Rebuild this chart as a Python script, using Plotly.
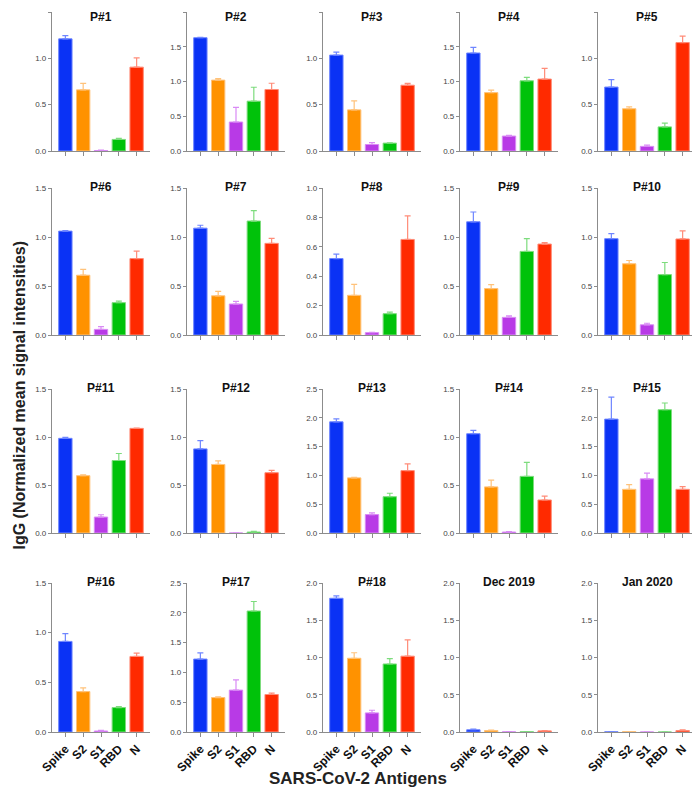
import plotly.graph_objects as go

# ---- data ----
antigens = ["Spike", "S2", "S1", "RBD", "N"]
panels = ["P#1", "P#2", "P#3", "P#4", "P#5",
          "P#6", "P#7", "P#8", "P#9", "P#10",
          "P#11", "P#12", "P#13", "P#14", "P#15",
          "P#16", "P#17", "P#18", "Dec 2019", "Jan 2020"]

means = [
    [1.21, 0.66, 0.005, 0.125, 0.905],
    [1.63, 1.02, 0.417, 0.717, 0.885],
    [1.035, 0.444, 0.07, 0.085, 0.71],
    [1.41, 0.84, 0.215, 1.01, 1.035],
    [0.69, 0.456, 0.05, 0.26, 1.17],
    [1.06, 0.61, 0.057, 0.33, 0.78],
    [1.09, 0.40, 0.316, 1.163, 0.935],
    [0.52, 0.27, 0.016, 0.145, 0.65],
    [1.155, 0.474, 0.18, 0.853, 0.928],
    [0.983, 0.727, 0.104, 0.616, 0.98],
    [0.986, 0.597, 0.166, 0.755, 1.09],
    [0.876, 0.714, 0.0, 0.01, 0.628],
    [1.93, 0.957, 0.32, 0.63, 1.083],
    [1.034, 0.48, 0.01, 0.59, 0.344],
    [1.977, 0.758, 0.94, 2.14, 0.758],
    [0.912, 0.407, 0.01, 0.246, 0.761],
    [1.224, 0.578, 0.703, 2.03, 0.629],
    [1.795, 0.99, 0.256, 0.913, 1.018],
    [0.03, 0.02, 0.002, 0.003, 0.015],
    [0.003, 0.005, 0.0, 0.0, 0.02],
]
errors = [
    [0.035, 0.07, 0.005, 0.012, 0.10],
    [0.006, 0.02, 0.21, 0.20, 0.09],
    [0.032, 0.096, 0.02, 0.004, 0.02],
    [0.08, 0.036, 0.01, 0.05, 0.155],
    [0.08, 0.021, 0.015, 0.04, 0.07],
    [0.005, 0.06, 0.028, 0.015, 0.075],
    [0.03, 0.045, 0.028, 0.107, 0.051],
    [0.03, 0.075, 0.002, 0.011, 0.16],
    [0.10, 0.041, 0.015, 0.13, 0.014],
    [0.052, 0.033, 0.016, 0.124, 0.082],
    [0.011, 0.01, 0.024, 0.073, 0.003],
    [0.086, 0.038, 0.0, 0.007, 0.024],
    [0.05, 0.01, 0.03, 0.06, 0.117],
    [0.036, 0.07, 0.004, 0.145, 0.041],
    [0.383, 0.082, 0.10, 0.117, 0.047],
    [0.078, 0.037, 0.007, 0.01, 0.034],
    [0.102, 0.011, 0.17, 0.16, 0.023],
    [0.031, 0.074, 0.036, 0.073, 0.219],
    [0.008, 0.005, 0.0, 0.0, 0.005],
    [0.0, 0.0, 0.0, 0.0, 0.008],
]
ymax = [1.5, 2.0, 1.5, 2.0, 1.5,
        1.5, 1.5, 1.0, 1.5, 1.5,
        1.5, 1.5, 2.5, 1.5, 2.5,
        1.5, 2.5, 2.0, 2.0, 2.0]
ystep = [0.5, 0.5, 0.5, 0.5, 0.5,
         0.5, 0.5, 0.2, 0.5, 0.5,
         0.5, 0.5, 0.5, 0.5, 0.5,
         0.5, 0.5, 0.5, 0.5, 0.5]

bar_colors = ["#0a32f5", "#ff9200", "#b83ae6", "#00c20a", "#ff2a00"]
edge_colors = ["#6f86ff", "#ffc27a", "#d98af5", "#7ddc7d", "#ff8c78"]

# ---- layout geometry ----
# page body has an 8px margin, so the figure is a bit smaller than the window
# and screen positions are converted to paper fractions with that offset
OFF = 8
W, H = 692, 785
col_left = [52, 187, 323, 460, 598]
col_w = 98
row_top = [12, 188, 389, 583]
row_bot = [151, 335, 533, 732]


def px(x):
    return (x - OFF) / W


def py(y):
    return 1 - (y - OFF) / H


fig = go.Figure()
annotations = []
axes = {}

for i, name in enumerate(panels):
    r, c = divmod(i, 5)
    n = i + 1
    xa = "x" if n == 1 else f"x{n}"
    ya = "y" if n == 1 else f"y{n}"
    for k, ag in enumerate(antigens):
        fig.add_trace(go.Bar(
            x=[ag], y=[means[i][k]],
            xaxis=xa, yaxis=ya,
            width=0.75,
            marker=dict(color=bar_colors[k], line=dict(color=edge_colors[k], width=1)),
            error_y=dict(type="data", array=[errors[i][k]], arrayminus=[0],
                         symmetric=False, color=edge_colors[k], thickness=1.2, width=3),
            showlegend=False,
        ))
    x0 = px(col_left[c])
    x1 = px(col_left[c] + col_w)
    y0 = py(row_bot[r])
    y1 = py(row_top[r])
    axes[f"xaxis{'' if n == 1 else n}"] = dict(
        domain=[x0, x1], anchor=ya, range=[-0.75, 4.75],
        showline=True, linecolor="#8c8c8c", linewidth=1.3,
        ticks="outside", ticklen=4, tickcolor="#8c8c8c",
        showticklabels=(r == 3), tickangle=-45, automargin=False,
        tickfont=dict(family="Liberation Sans, Arial", size=12, color="#111", weight="bold"),
        showgrid=False, zeroline=False, fixedrange=True,
    )
    axes[f"yaxis{'' if n == 1 else n}"] = dict(
        domain=[y0, y1], anchor=xa, range=[0, ymax[i]],
        dtick=ystep[i], tickformat=".1f", automargin=False,
        showline=True, linecolor="#8c8c8c", linewidth=1.3,
        ticks="outside", ticklen=3, tickcolor="#8c8c8c",
        tickfont=dict(family="Liberation Sans, Arial", size=8, color="#444"),
        showgrid=False, zeroline=False, fixedrange=True,
    )
    if r == 0:
        ty, anchor = 1.0, "top"
    else:
        ty, anchor = py(row_top[r] - 1), "middle"
    annotations.append(dict(
        text=f"<b>{name}</b>", x=(x0 + x1) / 2, y=ty,
        xref="paper", yref="paper", xanchor="center", yanchor=anchor,
        showarrow=False, font=dict(family="Liberation Sans, Arial", size=12, color="#111"),
    ))

annotations.append(dict(
    text="<b>IgG (Normalized mean signal intensities)</b>", x=0.0, y=py(395),
    xref="paper", yref="paper", xanchor="left", yanchor="middle", textangle=-90,
    showarrow=False, font=dict(family="Liberation Sans, Arial", size=16, color="#222"),
))
annotations.append(dict(
    text="<b>SARS-CoV-2 Antigens</b>", x=px(358), y=py(778),
    xref="paper", yref="paper", xanchor="center", yanchor="middle",
    showarrow=False, font=dict(family="Liberation Sans, Arial", size=17, color="#222"),
))

fig.update_layout(
    width=W, height=H,
    margin=dict(l=0, r=0, t=0, b=0, autoexpand=False),
    paper_bgcolor="white", plot_bgcolor="white",
    barmode="overlay",
    annotations=annotations,
    **axes,
)

fig.write_html("out.html")
